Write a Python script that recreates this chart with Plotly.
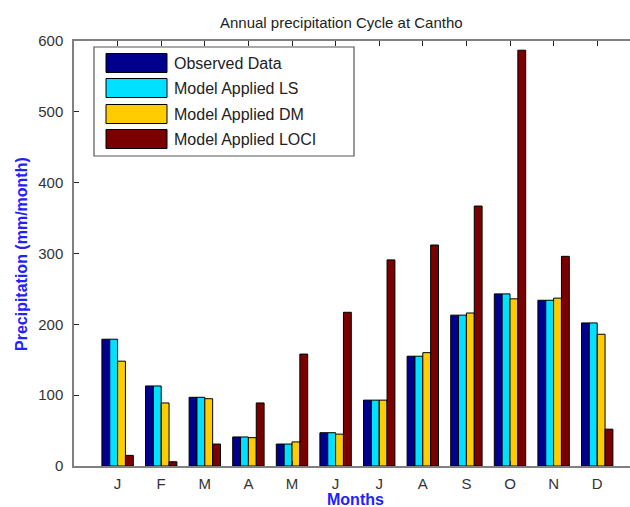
import plotly.graph_objects as go

months = ["J", "F", "M", "A", "M", "J", "J", "A", "S", "O", "N", "D"]
series_names = ["Observed Data", "Model Applied LS", "Model Applied DM", "Model Applied LOCI"]
observed = [179, 113, 97, 41, 31, 47, 93, 155, 213, 243, 234, 202]
model_ls = [179, 113, 97, 41, 31, 47, 93, 155, 213, 243, 234, 202]
model_dm = [148, 89, 95, 40, 34, 45, 93, 160, 216, 236, 237, 186]
model_loci = [15, 6, 31, 89, 158, 217, 291, 312, 367, 587, 296, 52]
colors = ["#00008C", "#00E1FF", "#FFCC00", "#7A0000"]
y_ticks = [0, 100, 200, 300, 400, 500, 600]

W, H = 630, 507
L, R, T, B = 74, 630, 41, 466  # plot area in pixels


def px(xp):
    return (xp - L) / (R - L)


def py(yp):
    return (B - yp) / (B - T)


xs = list(range(1, len(months) + 1))
fig = go.Figure()
for name, vals, col in zip(series_names, [observed, model_ls, model_dm, model_loci], colors):
    fig.add_trace(go.Bar(x=xs, y=vals, name=name, marker=dict(color=col, line=dict(color="#000000", width=1)),
                         showlegend=False))

fig.update_layout(
    width=W, height=H,
    margin=dict(l=L, r=W - R, t=T, b=H - B),
    paper_bgcolor="white", plot_bgcolor="white",
    barmode="group", bargap=0.28, bargroupgap=0,
    font=dict(family="Liberation Sans, Arial, sans-serif", size=15, color="#333333"),
)
fig.update_xaxes(
    range=[0, (R - L) / 43.6], tickmode="array", tickvals=xs, ticktext=months,
    showline=True, linecolor="#808080", linewidth=1.5, mirror="ticks",
    ticks="inside", ticklen=5, tickcolor="#222222", showgrid=False, zeroline=False,
    ticklabelstandoff=3,
)
fig.update_yaxes(
    range=[0, 600], tickmode="array", tickvals=y_ticks,
    showline=True, linecolor="#808080", linewidth=1.5,
    ticks="inside", ticklen=5, tickcolor="#222222", showgrid=False, zeroline=False,
    ticklabelstandoff=6,
)

# Legend (custom, matching reference swatch size)
fig.add_shape(type="rect", xref="paper", yref="paper", x0=px(94), x1=px(354), y0=py(156), y1=py(47),
              line=dict(color="#555555", width=1.2), fillcolor="white", layer="above")
rows = [63, 88, 114, 139]
for name, col, yc in zip(series_names, colors, rows):
    fig.add_shape(type="rect", xref="paper", yref="paper", x0=px(106), x1=px(167), y0=py(yc + 9.5), y1=py(yc - 9.5),
                  line=dict(color="#000000", width=1), fillcolor=col, layer="above")
    fig.add_annotation(xref="paper", yref="paper", x=px(172), y=py(yc), text=name, showarrow=False,
                       xanchor="left", yanchor="middle", font=dict(size=16, color="#222222"))

fig.add_annotation(xref="paper", yref="paper", x=px(341), y=py(22), text="Annual precipitation Cycle at Cantho",
                   showarrow=False, xanchor="center", yanchor="middle", font=dict(size=15, color="#222222"))
fig.add_annotation(xref="paper", yref="paper", x=px(355), y=py(499), text="<b>Months</b>",
                   showarrow=False, xanchor="center", yanchor="middle", font=dict(size=16, color="#2222FF"))
fig.add_annotation(xref="paper", yref="paper", x=px(21), y=py(254), text="<b>Precipitation (mm/month)</b>",
                   showarrow=False, textangle=-90, xanchor="center", yanchor="middle",
                   font=dict(size=16, color="#2222FF"))

fig.write_html("out.html", config={"displayModeBar": False},
               post_script="document.body.style.margin='0';document.documentElement.style.margin='0';")
